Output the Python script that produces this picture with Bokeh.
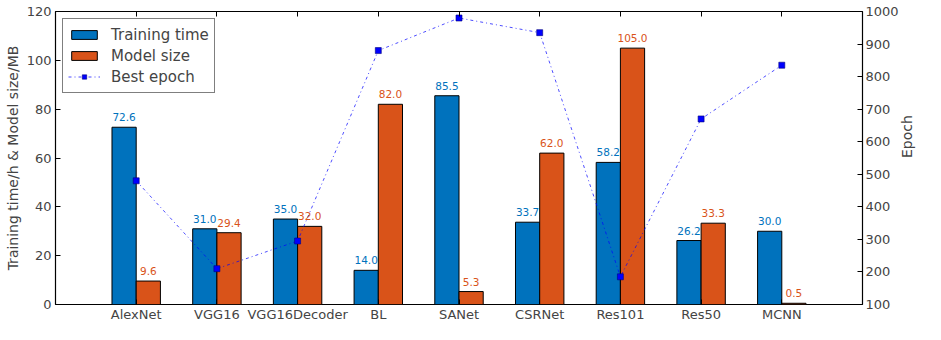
import math
from bokeh.plotting import figure
from bokeh.models import (ColumnDataSource, LinearAxis, Range1d, FixedTicker,
                          Legend, LegendItem, LabelSet)
from bokeh.core.properties import value
from bokeh.embed import file_html
from bokeh.resources import INLINE

categories = ["AlexNet", "VGG16", "VGG16Decoder", "BL", "SANet", "CSRNet", "Res101", "Res50", "MCNN"]
training_time = [72.6, 31.0, 35.0, 14.0, 85.5, 33.7, 58.2, 26.2, 30.0]
model_size = [9.6, 29.4, 32.0, 82.0, 5.3, 62.0, 105.0, 33.3, 0.5]
best_epoch = [480, 210, 295, 880, 980, 935, 185, 670, 835]
left_ticks = [0, 20, 40, 60, 80, 100, 120]
right_ticks = [100, 200, 300, 400, 500, 600, 700, 800, 900, 1000]

BLUE = "#0072BD"
ORANGE = "#D95319"
FONT = "DejaVu Sans"

idx = list(range(len(categories)))
bw = 0.3
src = ColumnDataSource(dict(
    x=idx,
    xb=[i - bw / 2 for i in idx],
    xo=[i + bw / 2 for i in idx],
    tt=training_time,
    ms=model_size,
    ep=best_epoch,
    ttl=["%.1f" % v for v in training_time],
    msl=["%.1f" % v for v in model_size],
))

p = figure(width=925, height=324, output_backend="svg", toolbar_location=None,
           x_range=Range1d(-1, 9), y_range=Range1d(0, 120),
           min_border_left=55, min_border_right=48, min_border_top=11, min_border_bottom=16)
p.extra_y_ranges = {"ep": Range1d(100, 1000)}
p.grid.visible = False
p.outline_line_color = "black"
p.outline_line_width = 1.2
p.background_fill_color = "white"
p.border_fill_color = "white"

r1 = p.vbar(x="xb", top="tt", width=bw, source=src, fill_color=BLUE, line_color="black", line_width=1)
r2 = p.vbar(x="xo", top="ms", width=bw, source=src, fill_color=ORANGE, line_color="black", line_width=1)
r3 = p.line(x="x", y="ep", source=src, y_range_name="ep", line_color="#0000FF", line_alpha=0.7,
            line_width=1, line_dash="3 3 1 3")
r4 = p.scatter(x="x", y="ep", source=src, y_range_name="ep", marker="square", size=6,
               fill_color="#0000FF", line_color="#00007F", line_width=0.6)

lab1 = LabelSet(x="xb", y="tt", text="ttl", source=src, text_align="center", text_baseline="bottom",
                y_offset=6, text_font=value(FONT), text_font_size=value("10.5px"), text_color=BLUE)
lab2 = LabelSet(x="xo", y="ms", text="msl", source=src, text_align="center", text_baseline="bottom",
                y_offset=6, text_font=value(FONT), text_font_size=value("10.5px"), text_color=ORANGE)
p.add_layout(lab1)
p.add_layout(lab2)

xa = p.xaxis[0]
xa.ticker = FixedTicker(ticks=idx)
xa.major_label_overrides = {i: c for i, c in enumerate(categories)}
xa.minor_tick_line_color = None
xa.major_tick_in = 5
xa.major_tick_out = 0
xa.major_label_standoff = 2
xa.major_label_text_font = FONT
xa.major_label_text_font_size = "13px"
xa.axis_line_color = None

ta = LinearAxis(ticker=FixedTicker(ticks=idx), major_label_text_font_size="0px",
                major_label_standoff=0,
                major_tick_in=5, major_tick_out=0, minor_tick_line_color=None, axis_line_color=None)
p.add_layout(ta, "above")

ya = p.yaxis[0]
ya.ticker = FixedTicker(ticks=left_ticks)
ya.minor_tick_line_color = None
ya.major_tick_in = 5
ya.major_tick_out = 0
ya.major_label_standoff = 4
ya.major_label_text_font = FONT
ya.major_label_text_font_size = "13px"
ya.axis_line_color = None
ya.axis_label = "Training time/h & Model size/MB"
ya.axis_label_text_font = FONT
ya.axis_label_text_font_size = "14px"
ya.axis_label_text_font_style = "normal"
ya.axis_label_standoff = 3

ra = LinearAxis(y_range_name="ep", ticker=FixedTicker(ticks=right_ticks), minor_tick_line_color=None,
                major_tick_in=5, major_tick_out=0, major_label_standoff=3,
                major_label_text_font=FONT, major_label_text_font_size="13px",
                axis_line_color=None, axis_label="Epoch", axis_label_text_font=FONT,
                axis_label_text_font_size="14px", axis_label_text_font_style="normal",
                axis_label_standoff=5, axis_label_orientation=math.pi / 2)
p.add_layout(ra, "right")

legend = Legend(items=[
    LegendItem(label="Training time", renderers=[r1]),
    LegendItem(label="Model size", renderers=[r2]),
    LegendItem(label="Best epoch", renderers=[r3, r4]),
], location="top_left")
legend.label_text_font = FONT
legend.label_text_font_size = "15px"
legend.border_line_color = "black"
legend.border_line_width = 1
legend.background_fill_alpha = 1
legend.glyph_width = 32
legend.glyph_height = 11
legend.spacing = 0
legend.padding = 5
legend.margin = 7
legend.label_standoff = 11
legend.label_height = 21
p.add_layout(legend)

open("out.html", "w").write(file_html(p, INLINE))
